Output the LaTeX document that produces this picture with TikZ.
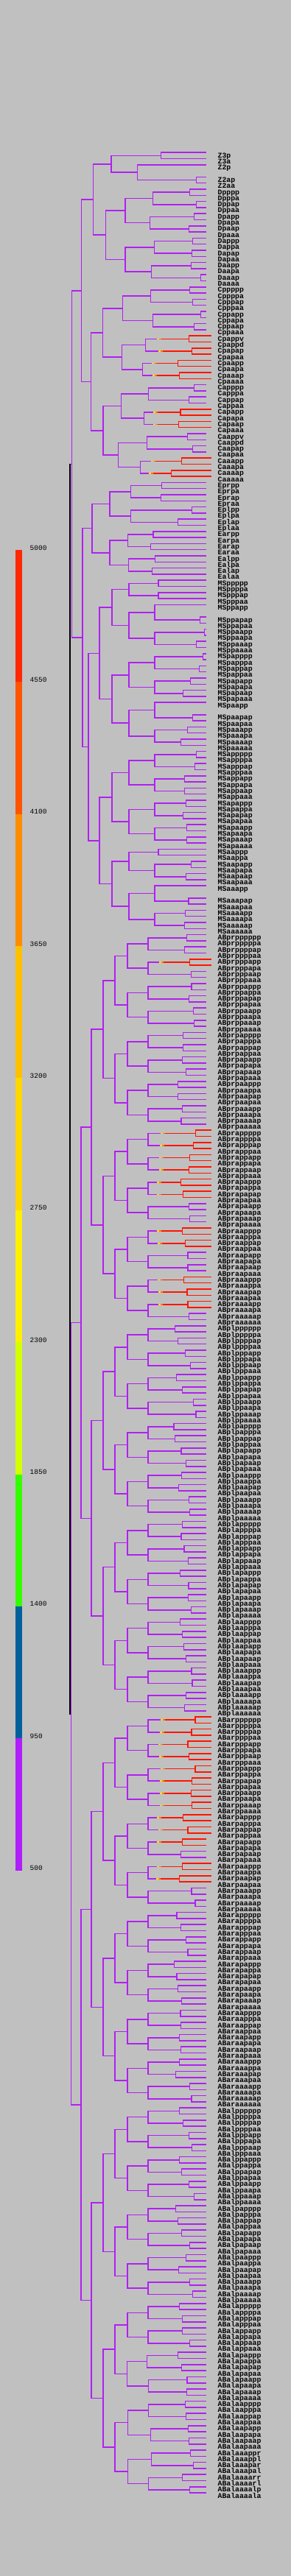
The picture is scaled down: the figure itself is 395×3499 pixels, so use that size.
\documentclass[tikz,border=0pt]{standalone}
\usepackage{fontspec}
\newfontfamily\lblfont{Liberation Mono}
\definecolor{bg}{RGB}{192,192,192}
\definecolor{pu}{RGB}{176,32,240}
\definecolor{rd}{RGB}{255,20,0}
\definecolor{yel}{RGB}{255,225,0}
\definecolor{org}{RGB}{255,120,0}
\definecolor{blk}{RGB}{0,0,0}
\definecolor{lgA}{RGB}{255,40,0}
\definecolor{lgB}{RGB}{255,85,0}
\definecolor{lgC}{RGB}{255,140,0}
\definecolor{lgD}{RGB}{255,192,0}
\definecolor{lgE}{RGB}{255,215,0}
\definecolor{lgF}{RGB}{255,240,0}
\definecolor{lgG}{RGB}{212,255,0}
\definecolor{lgH}{RGB}{51,255,0}
\definecolor{lgI}{RGB}{0,96,156}
\definecolor{lgJ}{RGB}{176,30,250}
\tikzset{
 br/.style={line width=1.55pt, line cap=rect},
 lbl/.style={font=\lblfont\bfseries\fontsize{9.8}{10}\selectfont, anchor=base west, inner sep=0pt, outer sep=0pt, text=black},
 leg/.style={font=\lblfont\fontsize{9.5}{10}\selectfont, anchor=base west, inner sep=0pt, outer sep=0pt, text=black}
}
\newcount\slotc
\def\trname{tr}
\def\px{95}
\def\lastY{0}
\def\PF{}
% leaf: color, x end, label
\newcommand\tleaf[3]{%
  \pgfmathsetmacro\yy{207.2+8.3*\the\slotc}%
  \draw[br,draw=#1] (\px,\yy) -- (#2,\yy);
  \edef\nm{L\the\slotc}%
  \node[lbl] (\nm) at (295.7,\yy+7) {#3};
  \xdef\lastY{\yy}%
  \global\advance\slotc by 1\relax}
\newcommand\tlf[1]{\tleaf{pu}{279}{#1}}
\newcommand\tlr[1]{\tleaf{rd}{286}{#1}}
\newcommand\tls[1]{\tleaf{rd}{279}{#1}}
\newcommand\tgp{\global\advance\slotc by 1\relax}
% horizontal segment: color, x1, x2, y
\newcommand\hseg[4]{%
  \def\tmpc{#1}%
  \ifx\tmpc\trname
    \pgfmathsetmacro\ta{#2+0.28*(#3-#2)}%
    \pgfmathsetmacro\tb{\ta+3}%
    \pgfmathsetmacro\tc{\ta+6}%
    \draw[br,draw=pu] (#2,#4) -- (\ta,#4);
    \draw[br,draw=yel] (\ta,#4) -- (\tb,#4);
    \draw[br,draw=org] (\tb,#4) -- (\tc,#4);
    \draw[br,draw=rd] (\tc,#4) -- (#3,#4);
  \else
    \draw[br,draw=#1] (#2,#4) -- (#3,#4);
  \fi}
% internal node: [color] x, child1, child2
\newcommand\tnd[4][pu]{%
  \begingroup
  \edef\mypx{\px}%
  \def\px{#2}%
  #3\edef\ya{\lastY}%
  #4\edef\yb{\lastY}%
  \pgfmathsetmacro\ym{(\ya+\yb)/2}%
  \hseg{#1}{\mypx}{#2}{\ym}%
  \def\tmpc{#1}%
  \ifx\tmpc\trname\def\bcl{rd}\else\def\bcl{#1}\fi
  \draw[br,draw=\bcl] (#2,\ya) -- (#2,\yb);
  \xdef\lastY{\ym}%
  \endgroup}
\newcommand\tpp[2]{\tnd{#1}{\tlf{\PF#2p}}{\tlf{\PF#2a}}}
\newcommand\trp[2]{\tnd[tr]{#1}{\tlr{\PF#2p}}{\tlr{\PF#2a}}}
\newcommand\trs[2]{\tnd[tr]{#1}{\tls{\PF#2p}}{\tls{\PF#2a}}}
\newcommand\tpq[4]{\tnd{#1}{\tlf{\PF#2#3}}{\tlf{\PF#2#4}}}
\newcommand\trq[4]{\tnd[tr]{#1}{\tlr{\PF#2#3}}{\tlr{\PF#2#4}}}
\newcommand\Qd[7]{\tnd{#1}{\tnd{#2}{#3}{#4}}{\tnd{#5}{#6}{#7}}}
\newcommand\ABblk[9]{\def\PF{#1}%
  \tnd{124}{\tnd{140}{\tnd{156}{#2}{#3}}{\tnd{156}{#4}{#5}}}{\tnd{140}{\tnd{156}{#6}{#7}}{\tnd{156}{#8}{#9}}}}
\begin{document}
\begin{tikzpicture}[x=1pt,y=-1pt]
\useasboundingbox (0,0) rectangle (395,3499);
\fill[bg] (0,0) rectangle (395,3499);
% legend
\foreach \i/\c in {0/lgA,1/lgB,2/lgC,3/lgD,4/lgE,5/lgF,6/lgG,7/lgH,8/lgI,9/lgJ}
  \fill[\c] (21,{747+179.36*\i}) rectangle (30,{747+179.36*(\i+1)});
\foreach \i/\v in {0/5000,1/4550,2/4100,3/3650,4/3200,5/2750,6/2300,7/1850,8/1400,9/950,10/500}
  \node[leg] (leg\i) at (40.7,{747+179.36*\i}) {\v};
% tree
\tnd[blk]{95}{%
 % P1
 \tnd{97.5}{%
  % P2
  \tnd{110.7}{%
   % P3
   \tnd{126.7}{%
    % P4
    \tnd{151}{\tnd{218.7}{\tlf{Z3p}}{\tlf{Z3a}}}{\tnd{186.7}{\tlf{Z2p}\tgp}{\tnd{266.7}{\tlf{Z2ap}}{\tlf{Z2aa}}}}%
   }{%
    \def\PF{D}%
    \tnd{143.7}{\tnd{170}{\tnd{207.7}{\tpp{257.7}{ppp}}{\tpp{266.7}{ppa}}}{\tnd{203.7}{\tpp{263.3}{pap}}{\tpp{256.7}{paa}}}}%
     {\tnd{170}{\tnd{209.7}{\tpp{261.7}{app}}{\tpp{260.7}{apa}}}{\tnd{205.7}{\tpp{259.3}{aap}}{\tpp{272.7}{aaa}}}}%
   }%
  }{%
   \def\PF{C}%
   \tnd{123.7}{%
    \tnd{139.7}{%
     \tnd{166.3}{\tnd{204.7}{\tpp{257.7}{pppp}}{\tpp{261.7}{pppa}}}{\tnd{207.7}{\tpp{272.7}{ppap}}{\tpp{263.3}{ppaa}}}%
    }{%
     \tnd{165.7}{\tnd{197.7}{\trq{256.7}{papp}{v}{d}}{\trp{260.7}{papa}}}{\tnd{193.3}{\trp{241.7}{paap}}{\trp{243.3}{paaa}}}%
    }%
   }{%
    \tnd{140}{%
     \tnd{164.7}{\tnd{201.7}{\tpp{263.3}{appp}}{\tpp{256.7}{appa}}}{\tnd{195.3}{\trp{245}{apap}}{\trp{242.7}{apaa}}}%
    }{%
     \tnd{160.7}{\tnd{199.3}{\tpq{254.7}{aapp}{v}{d}}{\tpp{261.7}{aapa}}}{\tnd{190.7}{\trp{246.3}{aaap}}{\trp{232.3}{aaaa}}}%
    }%
   }%
  }%
 }{%
  % EMS
  \tnd{112}{%
   \def\PF{E}%
   \tnd{125}{%
    \tnd{149}{\tnd{177.7}{\tpp{219.3}{prp}}{\tpp{218.7}{pra}}}{\tnd{177.7}{\tpp{260.7}{plp}}{\tpp{241.7}{pla}}}%
   }{%
    \tnd{149}{\tnd{173.7}{\tpp{208}{arp}}{\tpp{204.7}{ara}}}{\tnd{174.7}{\tpp{210.7}{alp}}{\tpp{206.7}{ala}}}%
   }%
  }{%
   \def\PF{MS}%
   \tnd{120}{%
    \tnd{135}{%
     \tnd{152}{%
      \tnd{175}{\tpp{215}{pppp}}{\tpp{215}{pppa}}%
     }{%
      \tnd{175}{\tnd{210}{\tlf{MSppapp}\tgp}{\tpp{271.7}{ppapa}}}{\tnd{210}{\tpp{277.7}{ppaap}}{\tpp{266.7}{ppaaa}}}%
     }%
    }{%
     \tnd{152}{%
      \tnd{175}{\tnd{210}{\tpp{275.7}{pappp}}{\tpp{270.7}{pappa}}}{\tnd{210}{\tpp{258.7}{papap}}{\tpp{248.3}{papaa}}}%
     }{%
      \tnd{175}{\tnd{210}{\tlf{MSpaapp}\tgp}{\tpp{261.7}{paapa}}}{\tnd{210}{\tpp{254.3}{paaap}}{\tpp{245.7}{paaaa}}}%
     }%
    }%
   }{%
    \tnd{135}{%
     \tnd{152}{%
      \tnd{175}{\tnd{210}{\tpp{266.7}{apppp}}{\tpp{264.3}{apppa}}}{\tnd{210}{\tpp{250.7}{appap}}{\tpp{250.7}{appaa}}}%
     }{%
      \tnd{175}{\tnd{210}{\tpp{252.7}{apapp}}{\tpp{248.3}{apapa}}}{\tnd{210}{\tpp{253.7}{apaap}}{\tpp{253.7}{apaaa}}}%
     }%
    }{%
     \tnd{152}{%
      \tnd{175}{\tpp{215}{aapp}}{\tnd{210}{\tpp{259.3}{aapap}}{\tpp{252.7}{aapaa}}}%
     }{%
      \tnd{175}{\tnd{210}{\tlf{MSaaapp}\tgp}{\tpp{256}{aaapa}}}{\tnd{210}{\tpp{251.7}{aaaap}}{\tpp{250.7}{aaaaa}}}%
     }%
    }%
   }%
  }%
 }%
}{%
 % AB
 \tnd{96.7}{%
  \tnd{110}{%
   \ABblk{ABpr}%
    {\Qd{173}{201}{\tpp{253.3}{ppppp}}{\tpp{250.7}{ppppa}}{201}{\trp{257.3}{pppap}}{\tpp{259.3}{pppaa}}}%
    {\Qd{173}{201}{\tpp{260}{ppapp}}{\tpp{256.7}{ppapa}}{201}{\tpp{262.3}{ppaap}}{\tpp{263.3}{ppaaa}}}%
    {\Qd{173}{201}{\tpp{248.3}{pappp}}{\tpp{248.3}{pappa}}{201}{\tpp{247.3}{papap}}{\tpp{252.7}{papaa}}}%
    {\Qd{173}{201}{\tpp{241.7}{paapp}}{\tpp{241.7}{paapa}}{201}{\tpp{247.3}{paaap}}{\tpp{246}{paaaa}}}%
    {\Qd{173}{201}{\trp{265.7}{apppp}}{\trp{262.3}{apppa}}{201}{\trp{257.3}{appap}}{\trp{256.7}{appaa}}}%
    {\Qd{173}{201}{\trp{245.7}{apapp}}{\trp{248.3}{apapa}}{201}{\tpp{256.7}{apaap}}{\tpp{257.3}{apaaa}}}%
    {\Qd{173}{201}{\trp{247.3}{aappp}}{\trp{251.7}{aappa}}{201}{\tpp{255}{aapap}}{\tpp{255}{aapaa}}}%
    {\Qd{173}{201}{\trp{249.3}{aaapp}}{\trp{254}{aaapa}}{201}{\trp{255}{aaaap}}{\tpp{256.7}{aaaaa}}}%
  }{%
   \ABblk{ABpl}%
    {\Qd{173}{201}{\tpp{237.3}{ppppp}}{\tpp{241.7}{ppppa}}{201}{\tpp{251.7}{pppap}}{\tpp{258.3}{pppaa}}}%
    {\Qd{173}{201}{\tpp{239.3}{ppapp}}{\tpp{247.3}{ppapa}}{201}{\tpp{262.7}{ppaap}}{\tpp{266}{ppaaa}}}%
    {\Qd{173}{201}{\tpp{236}{pappp}}{\tpp{237.3}{pappa}}{201}{\tpp{246}{papap}}{\tpp{252.7}{papaa}}}%
    {\Qd{173}{201}{\tpp{246.7}{paapp}}{\tpp{242.7}{paapa}}{201}{\tpp{256.7}{paaap}}{\tpp{257.7}{paaaa}}}%
    {\Qd{173}{201}{\tpp{247.3}{apppp}}{\tpp{246}{apppa}}{201}{\tpp{250}{appap}}{\tpp{255.7}{appaa}}}%
    {\Qd{173}{201}{\tpp{244.7}{apapp}}{\tpp{256}{apapa}}{201}{\tpp{255.7}{apaap}}{\tpp{259.3}{apaaa}}}%
    {\Qd{173}{201}{\tpp{244.7}{aappp}}{\tpp{247.3}{aappa}}{201}{\tpp{249.3}{aapap}}{\tpp{252.7}{aapaa}}}%
    {\Qd{173}{201}{\tpp{260}{aaapp}}{\tpp{261}{aaapa}}{201}{\tpp{252.7}{aaaap}}{\tpp{250.7}{aaaaa}}}%
  }%
 }{%
  \tnd{110}{%
   \ABblk{ABar}%
    {\Qd{173}{201}{\trp{265}{ppppp}}{\trp{260}{ppppa}}{201}{\trp{255}{pppap}}{\trp{256.7}{pppaa}}}%
    {\Qd{173}{201}{\trp{265}{ppapp}}{\trp{260.7}{ppapa}}{201}{\trp{259.3}{ppaap}}{\trp{260.7}{ppaaa}}}%
    {\Qd{173}{201}{\trp{248.3}{pappp}}{\trp{255}{pappa}}{201}{\trs{247.3}{papap}}{\tpp{245.7}{papaa}}}%
    {\Qd{173}{201}{\trp{247.3}{paapp}}{\trp{243.3}{paapa}}{201}{\tpp{260}{paaap}}{\tpp{265}{paaaa}}}%
    {\Qd{173}{201}{\tpp{240}{apppp}}{\tpp{245.7}{apppa}}{201}{\tpp{252.7}{appap}}{\tpp{255}{appaa}}}%
    {\Qd{173}{201}{\tpp{236.7}{apapp}}{\tpp{240}{apapa}}{201}{\tpp{241.7}{apaap}}{\tpp{246.7}{apaaa}}}%
    {\Qd{173}{201}{\tpp{245}{aappp}}{\tpp{245.7}{aappa}}{201}{\tpp{243.3}{aapap}}{\tpp{245.7}{aapaa}}}%
    {\Qd{173}{201}{\tpp{243.3}{aaapp}}{\tpp{238.3}{aaapa}}{201}{\tpp{257.3}{aaaap}}{\tpp{260}{aaaaa}}}%
  }{%
   \ABblk{ABal}%
    {\Qd{173}{201}{\tpp{243.3}{ppppp}}{\tpp{248.3}{ppppa}}{201}{\tpp{256.7}{pppap}}{\tpp{260.7}{pppaa}}}%
    {\Qd{173}{201}{\tpp{243.3}{ppapp}}{\tpp{246.7}{ppapa}}{201}{\tpp{256.7}{ppaap}}{\tpp{263.3}{ppaaa}}}%
    {\Qd{173}{201}{\tpp{238.3}{pappp}}{\tpp{241.7}{pappa}}{201}{\tpp{246.7}{papap}}{\tpp{257.7}{papaa}}}%
    {\Qd{173}{201}{\tpp{252.7}{paapp}}{\tpp{242.3}{paapa}}{201}{\tpp{257.7}{paaap}}{\tpp{261.7}{paaaa}}}%
    {\Qd{173}{201}{\tpp{243.3}{apppp}}{\tpp{247.3}{apppa}}{201}{\tpp{247.3}{appap}}{\tpp{257.7}{appaa}}}%
    {\Qd{172.7}{199.3}{\tpp{241.7}{apapp}}{\tpp{246.7}{apapa}}{201.7}{\tpp{254}{apaap}}{\tpp{253.3}{apaaa}}}%
    {\Qd{173.7}{201.7}{\tpp{251.7}{aappp}}{\tpp{252.7}{aappa}}{204.3}{\tpp{255.7}{aapap}}{\tpp{256.7}{aapaa}}}%
    {\Qd{173.7}{205.7}{\tpq{258.3}{aaapp}{r}{l}}{\tpq{262.7}{aaapa}{r}{l}}{201.7}{\tpq{247.7}{aaaar}{r}{l}}{\tpq{257.3}{aaaal}{p}{a}}}%
  }%
 }%
}
\end{tikzpicture}
\end{document}
